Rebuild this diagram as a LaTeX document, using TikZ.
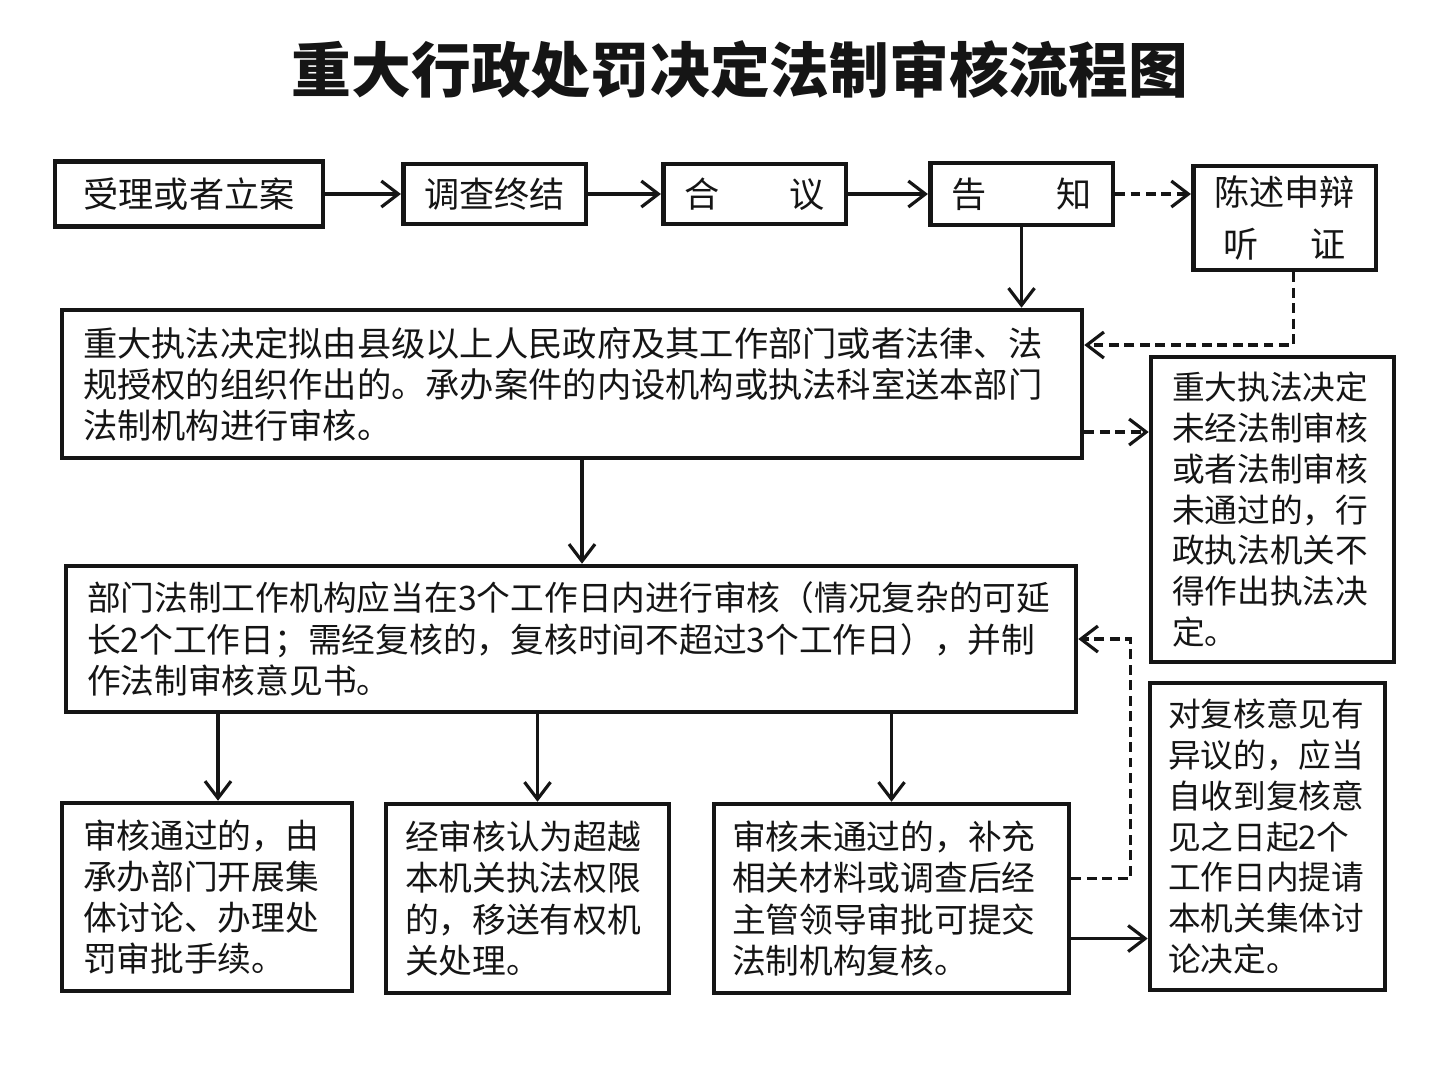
\documentclass[tikz,border=0pt]{standalone}
\usepackage{fontspec}
\setmainfont{Noto Sans CJK SC}
\usetikzlibrary{arrows.meta,calc}
\definecolor{Ink}{HTML}{151515}
\tikzset{
  box/.style={
    draw=Ink, line width=1.3pt, fill=white, text=Ink,
    inner xsep=2.1mm, inner ysep=0pt, align=center,
    font=\fontsize{10}{12.2}\selectfont
  },
  textbox/.style={box, align=left, font=\fontsize{9.75}{11.7}\selectfont},
  narrowbox/.style={box, align=left, font=\fontsize{9.3}{11.65}\selectfont},
  flow/.style={-{Straight Barb[length=1.7mm,width=2.6mm]}, line width=0.9pt, draw=Ink},
  dashflow/.style={flow, dash pattern=on 2.8pt off 1.6pt}
}

\begin{document}
\begin{tikzpicture}[x=0.1mm,y=-0.1mm]
    \useasboundingbox[fill=white] (0,0) rectangle (1440,1080);
    \node[text=Ink,font=\fontsize{17}{20}\selectfont\bfseries] (title) at (740,70) {重大行政处罚决定法制审核流程图};

    \node[box,minimum width=26.8mm,minimum height=6.5mm] (accept) at (189,194) {受理或者立案};
    \node[box,minimum width=18.1mm,minimum height=6.0mm] (investigate) at (494.5,194) {调查终结};
    \node[box,minimum width=17.7mm,minimum height=6.0mm] (discuss) at (754.5,194) {合\hspace{2em}议};
    \node[box,minimum width=17.7mm,minimum height=6.2mm] (notify) at (1021.5,194) {告\hspace{2em}知};
    \node[box,minimum width=17.9mm,minimum height=10.4mm] (hearing) at (1284.5,218) {陈述申辩\\[1mm]听\hspace{1.5em}证};

    \node[textbox,text width=97.8mm,minimum height=14.8mm] (submit) at (572,384)
      {重大执法决定拟由县级以上人民政府及其工作部门或者法律、法\\规授权的组织作出的。承办案件的内设机构或执法科室送本部门\\法制机构进行审核。};
    \node[narrowbox,text width=20.1mm,minimum height=30.5mm] (noreview) at (1272.5,509.5)
      {重大执法决定\\未经法制审核\\或者法制审核\\未通过的，行\\政执法机关不\\得作出执法决\\定。};

    \node[textbox,font=\fontsize{9.6}{11.7}\selectfont,text width=96.8mm,minimum height=14.6mm] (review) at (571,639)
      {部门法制工作机构应当在3个工作日内进行审核（情况复杂的可延\\长2个工作日；需经复核的，复核时间不超过3个工作日），并制\\作法制审核意见书。};
    \node[narrowbox,inner xsep=1.8mm,text width=19.9mm,minimum height=30.7mm] (objection) at (1267.5,836.5)
      {对复核意见有\\异议的，应当\\自收到复核意\\见之日起2个\\工作日内提请\\本机关集体讨\\论决定。};

    \node[textbox,font=\fontsize{9.6}{11.7}\selectfont,text width=24.8mm,minimum height=18.8mm] (approved) at (207,897)
      {审核通过的，由\\承办部门开展集\\体讨论、办理处\\罚审批手续。};
    \node[textbox,font=\fontsize{9.6}{11.7}\selectfont,inner xsep=1.9mm,text width=24.5mm,minimum height=18.9mm] (transfer) at (527.5,898.5)
      {经审核认为超越\\本机关执法权限\\的，移送有权机\\关处理。};
    \node[textbox,font=\fontsize{9.6}{11.7}\selectfont,inner xsep=1.8mm,text width=31.9mm,minimum height=18.9mm] (failed) at (891.5,898.5)
      {审核未通过的，补充\\相关材料或调查后经\\主管领导审批可提交\\法制机构复核。};

    \draw[flow] (accept) -- (investigate);
    \draw[flow] (investigate) -- (discuss);
    \draw[flow] (discuss) -- (notify);
    \draw[dashflow] (notify) -- (notify -| hearing.west);
    \draw[flow] (notify) -- (notify |- submit.north);
    \draw[dashflow] ([xshift=0.9mm]hearing.south) |- ([yshift=3.9mm]submit.east);
    \draw[dashflow] ([yshift=-4.8mm]submit.east) -- ([yshift=-4.8mm]submit.east -| noreview.west);
    \draw[flow] ([xshift=1mm]submit.south) -- ([xshift=1mm]submit.south |- review.north);
    \draw[flow] ([xshift=1.1mm]approved.north |- review.south) -- ([xshift=1.1mm]approved.north);
    \draw[flow] ([xshift=1mm]transfer.north |- review.south) -- ([xshift=1mm]transfer.north);
    \draw[flow] (failed.north |- review.south) -- (failed.north);
    \draw[dashflow] ([yshift=2mm]failed.east) -- ++(5.9mm,0) |- (review.east);
    \draw[flow] ([yshift=-4mm]failed.east) -- ([yshift=-4mm]failed.east -| objection.west);
\end{tikzpicture}
\end{document}
